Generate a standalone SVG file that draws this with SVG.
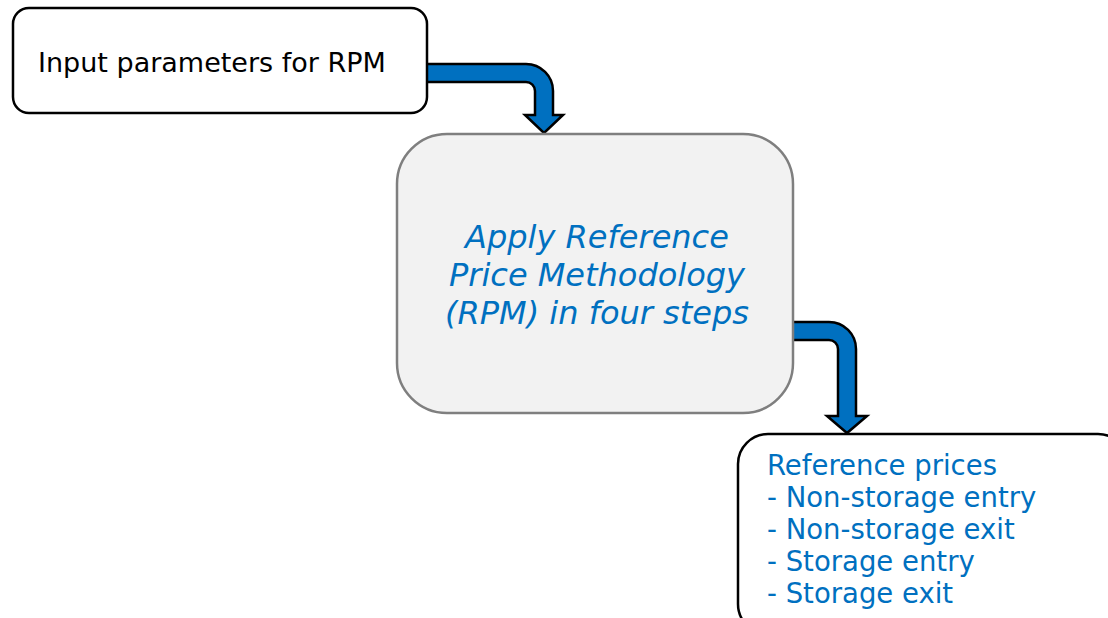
<svg xmlns="http://www.w3.org/2000/svg" width="1108" height="618" viewBox="0 0 1108 618">
<style>
.lbl{font-family:"DejaVu Sans","Verdana",sans-serif;}
.blk{fill:#000;font-size:27px;}
.blue{fill:#0070c0;}
.it{font-size:32px;font-style:italic;text-anchor:middle;}
.lst{font-size:27.5px;}
.arrow{fill:#0070c0;stroke:#000;stroke-width:2.5;stroke-linejoin:miter;}
</style>
<rect width="1108" height="618" fill="#fff"/>
<g id="connectors">
<path class="arrow" d="M 420 64 H 526 A 27 27 0 0 1 553 91 V 115 H 563 L 544 133 L 525 115 H 535 V 91 A 9 9 0 0 0 526 82 H 420 Z"/>
<path class="arrow" d="M 786 322 H 829 A 27 27 0 0 1 856 349 V 416 H 867 L 847 433 L 827 416 H 838 V 349 A 9 9 0 0 0 829 340 H 786 Z"/>
</g>
<g id="input">
<rect x="13" y="8" width="414" height="105" rx="16" fill="#fff" stroke="#000" stroke-width="2.5"/>
<text class="lbl blk" x="38" y="72">Input parameters for RPM</text>
</g>
<g id="rpm">
<rect x="397" y="134" width="396" height="279" rx="50" fill="#f2f2f2" stroke="#7f7f7f" stroke-width="2.5"/>
<text class="lbl blue it" x="597" y="248">Apply Reference</text>
<text class="lbl blue it" x="597" y="286">Price Methodology</text>
<text class="lbl blue it" x="597" y="324">(RPM) in four steps</text>
</g>
<g id="prices">
<rect x="738" y="434" width="390" height="200" rx="30" fill="#fff" stroke="#000" stroke-width="2.5"/>
<text class="lbl blue lst" x="767" y="475">Reference prices</text>
<text class="lbl blue lst" x="767" y="507">- Non-storage entry</text>
<text class="lbl blue lst" x="767" y="539">- Non-storage exit</text>
<text class="lbl blue lst" x="767" y="571">- Storage entry</text>
<text class="lbl blue lst" x="767" y="603">- Storage exit</text>
</g>
</svg>
